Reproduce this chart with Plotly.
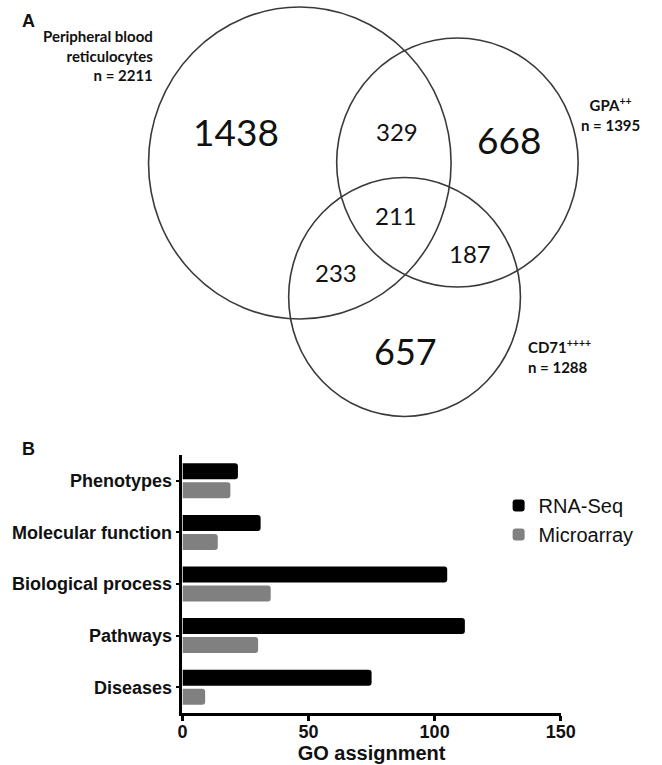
import plotly.graph_objects as go

# ---- Panel A: Venn diagram of detected transcripts ----
set_names = ["Peripheral blood<br>reticulocytes", "GPA<sup>++</sup>", "CD71<sup>++++</sup>"]
set_totals = [2211, 1395, 1288]
# region counts: only A, only B, only C, A&B, A&C, B&C, A&B&C
region_labels = ["A", "B", "C", "AB", "AC", "BC", "ABC"]
region_counts = [1438, 668, 657, 329, 233, 187, 211]

# ---- Panel B: GO assignment counts ----
categories = ["Phenotypes", "Molecular function", "Biological process", "Pathways", "Diseases"]
rnaseq = [22, 31, 105, 112, 75]
microarray = [19, 14, 35, 30, 9]

W, H = 662, 765

# circle geometry in pixel units of the overlay axes (cx, cy, r)
circles = [(304, 163, 156), (466.5, 162.5, 124.5), (412, 297, 119.5)]
# label anchor for each region count, and its font size
region_pos = {
    "A": (238, 131, 37), "B": (520, 139, 37), "C": (413, 351, 36),
    "AB": (404, 131, 24), "AC": (341, 272, 24), "BC": (479, 253, 24),
    "ABC": (403, 215, 24),
}

fig = go.Figure()

fig.add_trace(go.Bar(
    name="RNA-Seq", y=categories, x=rnaseq, orientation="h",
    marker=dict(color="#000000", line=dict(width=0), cornerradius=3),
    xaxis="x", yaxis="y",
))
fig.add_trace(go.Bar(
    name="Microarray", y=categories, x=microarray, orientation="h",
    marker=dict(color="#808080", line=dict(width=0), cornerradius=3),
    xaxis="x", yaxis="y",
))

bold = dict(family="Liberation Sans, Arial, sans-serif", color="#111", weight="bold")

shapes = []
for cx, cy, r in circles:
    shapes.append(dict(type="circle", xref="x2", yref="y2",
                       x0=cx - r, x1=cx + r, y0=cy - r, y1=cy + r,
                       line=dict(color="#3a3a3a", width=1.6), fillcolor="rgba(0,0,0,0)"))

annotations = []
for lab, cnt in zip(region_labels, region_counts):
    x, y, fs = region_pos[lab]
    annotations.append(dict(xref="x2", yref="y2", x=x, y=y, text=str(cnt), showarrow=False,
                            font=dict(family="Lato, sans-serif", size=fs, color="#111"),
                            xanchor="center", yanchor="middle"))

venn_font = dict(family="Lato, sans-serif", size=15, color="#111", weight="bold")
annotations += [
    dict(xref="x2", yref="y2", x=155, y=55, xanchor="right", yanchor="middle", align="right",
         text=f"{set_names[0]}<br>n = {set_totals[0]}", showarrow=False, font=venn_font),
    dict(xref="x2", yref="y2", x=624, y=114, xanchor="center", yanchor="middle", align="center",
         text=f"{set_names[1]}<br>n = {set_totals[1]}", showarrow=False, font=venn_font),
    dict(xref="x2", yref="y2", x=537, y=356, xanchor="left", yanchor="middle", align="left",
         text=f"{set_names[2]}<br>n = {set_totals[2]}", showarrow=False, font=venn_font),
    dict(xref="x2", yref="y2", x=15, y=21, xanchor="left", yanchor="middle",
         text="A", showarrow=False, font=dict(bold, size=18)),
    dict(xref="x2", yref="y2", x=15, y=449, xanchor="left", yanchor="middle",
         text="B", showarrow=False, font=dict(bold, size=18)),
]

fig.update_layout(
    width=W, height=H, margin=dict(l=0, r=0, t=0, b=0),
    paper_bgcolor="white", plot_bgcolor="rgba(0,0,0,0)",
    barmode="group", bargap=0.264, bargroupgap=0.158,
    showlegend=True,
    legend=dict(x=509 / W, y=1 - 486 / H, xanchor="left", yanchor="top",
                font=dict(family="Liberation Sans, Arial, sans-serif", size=20, color="#111"),
                itemwidth=30, tracegroupgap=0, bgcolor="rgba(0,0,0,0)"),
    xaxis=dict(domain=[183 / W, 573 / W], anchor="y", range=[0, 150],
               tickvals=[0, 50, 100, 150], ticks="outside", ticklen=5, tickwidth=2.5,
               tickcolor="#000", showline=True, linecolor="#000", linewidth=2.5,
               showgrid=False, zeroline=False, tickfont=dict(bold, size=18),
               ticklabelstandoff=-4,
               title=dict(text="GO assignment", font=dict(bold, size=20), standoff=3)),
    yaxis=dict(domain=[1 - 713 / H, 1 - 455 / H], anchor="x",
               categoryorder="array", categoryarray=categories, autorange="reversed",
               ticks="outside", ticklen=4, tickwidth=2, tickcolor="#000",
               showline=True, linecolor="#000", linewidth=2.5, showgrid=False,
               zeroline=False, tickfont=dict(bold, size=18)),
    xaxis2=dict(domain=[0, 1], anchor="y2", range=[0, W], visible=False, fixedrange=True),
    yaxis2=dict(domain=[0, 1], anchor="x2", range=[H, 0], visible=False, fixedrange=True),
    shapes=shapes, annotations=annotations,
)

fig.write_html("out.html")
